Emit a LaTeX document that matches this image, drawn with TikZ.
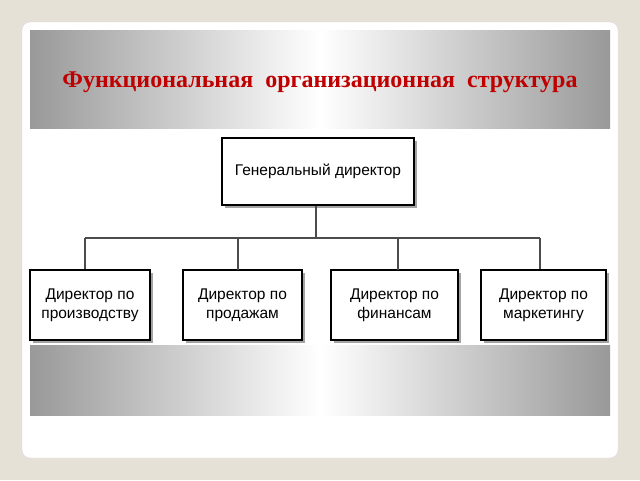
\documentclass[tikz,border=0pt]{standalone}
\usepackage{fontspec}
\setmainfont{Liberation Sans}
\newfontfamily\titlefont{Liberation Serif}
\usetikzlibrary{shadows}
\begin{document}
\begin{tikzpicture}[x=1pt,y=-1pt,
  box/.style={draw=black,line width=2pt,fill=white,align=center,font=\fontsize{15.5}{19}\selectfont,inner sep=1pt,
    drop shadow={shadow xshift=3pt,shadow yshift=-3pt,fill=black!60,opacity=0.6}},
  conn/.style={line width=2.2pt,draw=black!70}]
\useasboundingbox (0,0) rectangle (640,480);
\fill[color={rgb,255:red,230;green,225;blue,214}] (0,0) rectangle (640,480);
\fill[white,rounded corners=8pt,draw=black!15] (22,22) rectangle (618,458);
\shade[left color=black!40,right color=black!40,middle color=white] (30,30) rectangle (610,128);
\shade[left color=black!40,right color=black!40,middle color=white] (30,345) rectangle (610,415);
\node[font=\titlefont\bfseries\fontsize{24}{28}\selectfont,text={rgb,255:red,192;green,0;blue,0}] (title) at (320,82)
  {Функциональная\ \ организационная\ \ структура};
\node[box,minimum width=192pt,minimum height=67pt] (gd) at (318,171.5) {Генеральный директор};
\node[box,minimum width=120pt,minimum height=70pt] (b1) at (90,305) {Директор по\\производству};
\node[box,minimum width=119pt,minimum height=70pt] (b2) at (242.5,305) {Директор по\\продажам};
\node[box,minimum width=127pt,minimum height=70pt] (b3) at (394.5,305) {Директор по\\финансам};
\node[box,minimum width=125pt,minimum height=70pt] (b4) at (543.5,305) {Директор по\\маркетингу};
\coordinate (j) at (316,238);
\coordinate (l) at (85,238);
\coordinate (r) at (540,238);
\draw[conn] (gd.south -| j) -- (j);
\draw[conn] (l) -- (r);
\draw[conn] (l) -- (l |- b1.north);
\draw[conn] (238,238) -- (238,270);
\draw[conn] (398,238) -- (398,270);
\draw[conn] (r) -- (r |- b4.north);
\end{tikzpicture}
\end{document}
